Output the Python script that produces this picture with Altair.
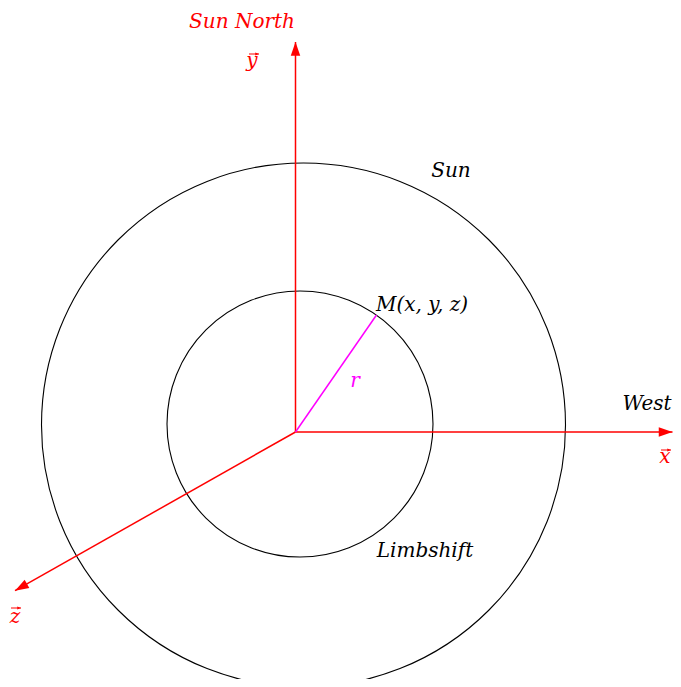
import math
import altair as alt
import pandas as pd

# ---- data (screen-like coordinates, y grows downward) ----
circle_name = ["Sun", "Limbshift"]
circle_cx = [303.5, 300.0]
circle_cy = [425.0, 424.0]
circle_r = [262.0, 133.0]

vec_name = ["x", "y", "z"]
vec_x0 = [295.5, 295.5, 295.5]
vec_y0 = [432.0, 432.0, 432.0]
vec_x1 = [672.5, 295.5, 15.0]
vec_y1 = [432.0, 42.0, 590.7]

r_x0 = [295.5]
r_y0 = [432.0]
r_x1 = [376.5]
r_y1 = [315.0]

label_text = ["Sun North", "West", "Sun", "M(x, y, z)", "Limbshift", "r", "x", "y", "z"]
label_x = [242, 647, 451, 422, 425, 355, 665, 252, 15]
label_y = [28, 410, 177, 311, 557, 387, 463, 67, 623]
label_color = ["#ff0000", "#000000", "#000000", "#000000", "#000000", "#ff00ff",
               "#ff0000", "#ff0000", "#ff0000"]

# small vector arrows drawn over the x, y, z letters
over_x0 = [661.0, 249.0, 11.0]
over_x1 = [671.0, 259.0, 21.0]
over_y = [450.0, 54.0, 608.0]

# ---- tables ----
circles = pd.DataFrame({"name": circle_name, "cx": circle_cx, "cy": circle_cy,
                        "size": [(2 * r) ** 2 for r in circle_r]})
vecs = pd.DataFrame({"name": vec_name, "x0": vec_x0, "y0": vec_y0, "x1": vec_x1, "y1": vec_y1})
vecs["angle"] = [
    (math.degrees(math.atan2(b1 - b0, a1 - a0)) + 360) % 360
    for a0, b0, a1, b1 in zip(vec_x0, vec_y0, vec_x1, vec_y1)
]
rseg = pd.DataFrame({"x0": r_x0, "y0": r_y0, "x1": r_x1, "y1": r_y1})
labels = pd.DataFrame({"text": label_text, "x": label_x, "y": label_y, "color": label_color})
overs = pd.DataFrame({"x0": over_x0, "x1": over_x1, "y": over_y})

W, H = 665, 671
xs = alt.Scale(domain=[8, 8 + W], nice=False, zero=False)
ys = alt.Scale(domain=[8, 8 + H], nice=False, zero=False, reverse=True)


def X(f):
    return alt.X(f"{f}:Q", scale=xs, axis=None)


def Y(f):
    return alt.Y(f"{f}:Q", scale=ys, axis=None)


circle_layer = alt.Chart(circles).mark_point(
    shape="circle", filled=False, stroke="black", strokeWidth=1.1, opacity=1
).encode(x=X("cx"), y=Y("cy"), size=alt.Size("size:Q", scale=None, legend=None))

vec_lines = alt.Chart(vecs).mark_rule(color="#ff0000", strokeWidth=1.5).encode(
    x=X("x0"), y=Y("y0"), x2="x1:Q", y2="y1:Q"
)

heads = alt.Chart(vecs).mark_point(
    shape="M0,0L-2.9,-1L-2.9,1Z", filled=True, color="#ff0000", opacity=1, strokeWidth=0
).encode(
    x=X("x1"), y=Y("y1"),
    angle=alt.Angle("angle:Q", scale=None),
    size=alt.value(90),
)

r_line = alt.Chart(rseg).mark_rule(color="#ff00ff", strokeWidth=1.5).encode(
    x=X("x0"), y=Y("y0"), x2="x1:Q", y2="y1:Q"
)

over_lines = alt.Chart(overs).mark_rule(color="#ff0000", strokeWidth=1).encode(
    x=X("x0"), x2="x1:Q", y=Y("y")
)
over_heads = alt.Chart(overs).mark_point(
    shape="M0,0L-2.5,-1L-2.5,1Z", filled=True, color="#ff0000", opacity=1, strokeWidth=0
).encode(x=X("x1"), y=Y("y"), size=alt.value(9))

texts = alt.Chart(labels).mark_text(
    font="DejaVu Serif", fontStyle="italic", fontSize=20, align="center", baseline="alphabetic"
).encode(x=X("x"), y=Y("y"), text="text:N", color=alt.Color("color:N", scale=None))

chart = alt.layer(circle_layer, vec_lines, r_line, heads, over_lines, over_heads, texts).properties(
    width=W, height=H, autosize=alt.AutoSizeParams(type="none"), padding=0
).configure_view(stroke=None)

chart.save("out.html", embed_options={"renderer": "svg", "actions": False})
